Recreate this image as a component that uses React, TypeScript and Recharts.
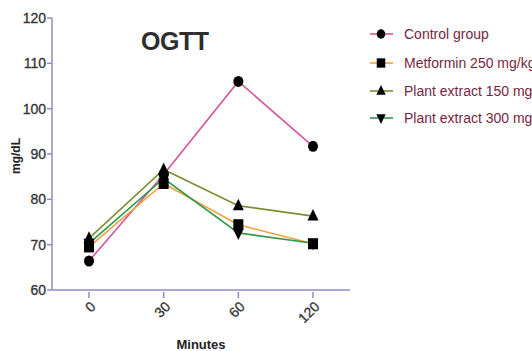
import React from 'react';
import { LineChart, Line, XAxis, YAxis } from 'recharts';

const minutes = ['0', '30', '60', '120'];
const controlGroup = [66.4, 85.5, 106, 91.7];
const metformin250 = [69.5, 83.5, 74.4, 70.2];
const plant150 = [71.4, 86.6, 78.6, 76.3];
const plant300 = [70.3, 84.6, 72.6, 70.3];
const yTicks = [60, 70, 80, 90, 100, 110, 120];

const seriesNames = ['Control group', 'Metformin 250 mg/kg', 'Plant extract 150 mg/kg', 'Plant extract 300 mg/kg'];
const seriesKeys = ['control', 'metformin', 'p150', 'p300'];
const seriesColors = ['#d4559c', '#f0a23c', '#7d8c2e', '#2f9a4a'];
const seriesShapes = ['circle', 'square', 'triangle', 'invtriangle'];

const data = minutes.map((m, i) => ({
  minute: m,
  control: controlGroup[i],
  metformin: metformin250[i],
  p150: plant150[i],
  p300: plant300[i],
}));

const AXIS = '#8c8cc4';
const FONT = '"Liberation Sans", Arial, Helvetica, sans-serif';

function Marker({ shape, cx, cy, s = 1 }: { shape: string; cx: number; cy: number; s?: number }) {
  if (shape === 'circle') return <ellipse cx={cx} cy={cy} rx={5 * s} ry={5.5 * s} fill="#000" />;
  if (shape === 'square') return <rect x={cx - 5 * s} y={cy - 5.5 * s} width={10 * s} height={11 * s} fill="#000" />;
  if (shape === 'triangle')
    return <polygon points={`${cx},${cy - 7 * s} ${cx + 5.5 * s},${cy + 4.5 * s} ${cx - 5.5 * s},${cy + 4.5 * s}`} fill="#000" />;
  return <polygon points={`${cx},${cy + 7 * s} ${cx + 5.5 * s},${cy - 4.5 * s} ${cx - 5.5 * s},${cy - 4.5 * s}`} fill="#000" />;
}

const makeDot = (shape: string) => (props: any) => {
  const { cx, cy, index } = props;
  return <Marker key={`${shape}-${index}`} shape={shape} cx={cx} cy={cy} />;
};

const XTick = (props: any) => {
  const { x, y, payload } = props;
  return (
    <g>
      <line x1={x} y1={y} x2={x} y2={y + 6} stroke={AXIS} strokeWidth={1.5} />
      <text
        x={x + 4}
        y={y + 12}
        textAnchor="end"
        dominantBaseline="central"
        transform={`rotate(-45 ${x + 4} ${y + 12})`}
        fontSize={14}
        fill="#333"
        stroke="#333"
        strokeWidth={0.3}
        fontFamily={FONT}
      >
        {payload.value}
      </text>
    </g>
  );
};

export default function App() {
  return (
    <div style={{ position: 'absolute', left: 0, top: 0, width: 532, height: 351, overflow: 'hidden', background: '#fff' }}>
      <LineChart width={532} height={351} data={data} margin={{ top: 18, right: 182, bottom: 0, left: 0 }}>
        <XAxis
          dataKey="minute"
          height={61}
          padding={{ left: 37, right: 37 }}
          tick={<XTick />}
          tickLine={false}
          axisLine={{ stroke: AXIS, strokeWidth: 1.5 }}
          tickSize={0}
          interval={0}
          label={{ value: 'Minutes', position: 'insideBottom', offset: 0, dy: -2, fontSize: 13, fontWeight: 'bold', fill: '#222', fontFamily: FONT }}
        />
        <YAxis
          width={52}
          domain={[60, 120]}
          ticks={yTicks}
          interval={0}
          tickSize={5}
          tickMargin={1}
          tick={{ fontSize: 14, fill: '#333', stroke: '#333', strokeWidth: 0.3, fontFamily: FONT }}
          tickLine={{ stroke: AXIS, strokeWidth: 1.5 }}
          axisLine={{ stroke: AXIS, strokeWidth: 1.5 }}
          label={{ value: 'mg/dL', angle: -90, position: 'insideLeft', offset: 16, dy: 20, fontSize: 12, fontWeight: 'bold', fill: '#222', fontFamily: FONT }}
        />
        {seriesKeys.map((k, i) => (
          <Line
            key={k}
            dataKey={k}
            name={seriesNames[i]}
            stroke={seriesColors[i]}
            strokeWidth={1.6}
            dot={makeDot(seriesShapes[i])}
            activeDot={false}
            isAnimationActive={false}
          />
        ))}
      </LineChart>
      <div
        style={{
          position: 'absolute',
          left: 141,
          top: 27,
          fontFamily: FONT,
          fontSize: 25,
          fontWeight: 'bold',
          color: '#2e2e2e',
          letterSpacing: -0.5,
        }}
      >
        OGTT
      </div>
      <svg style={{ position: 'absolute', left: 0, top: 0 }} width={532} height={351}>
        {seriesNames.map((n, i) => {
          const cy = [34, 63, 91, 118][i];
          return (
            <g key={n}>
              <line x1={370} y1={cy} x2={393} y2={cy} stroke={seriesColors[i]} strokeWidth={1.6} />
              <Marker shape={seriesShapes[i]} cx={381} cy={cy} s={0.85} />
              <text x={404} y={cy} dominantBaseline="central" fontSize={14} fill="#7a1f3f" fontFamily={FONT}>
                {n}
              </text>
            </g>
          );
        })}
      </svg>
    </div>
  );
}
